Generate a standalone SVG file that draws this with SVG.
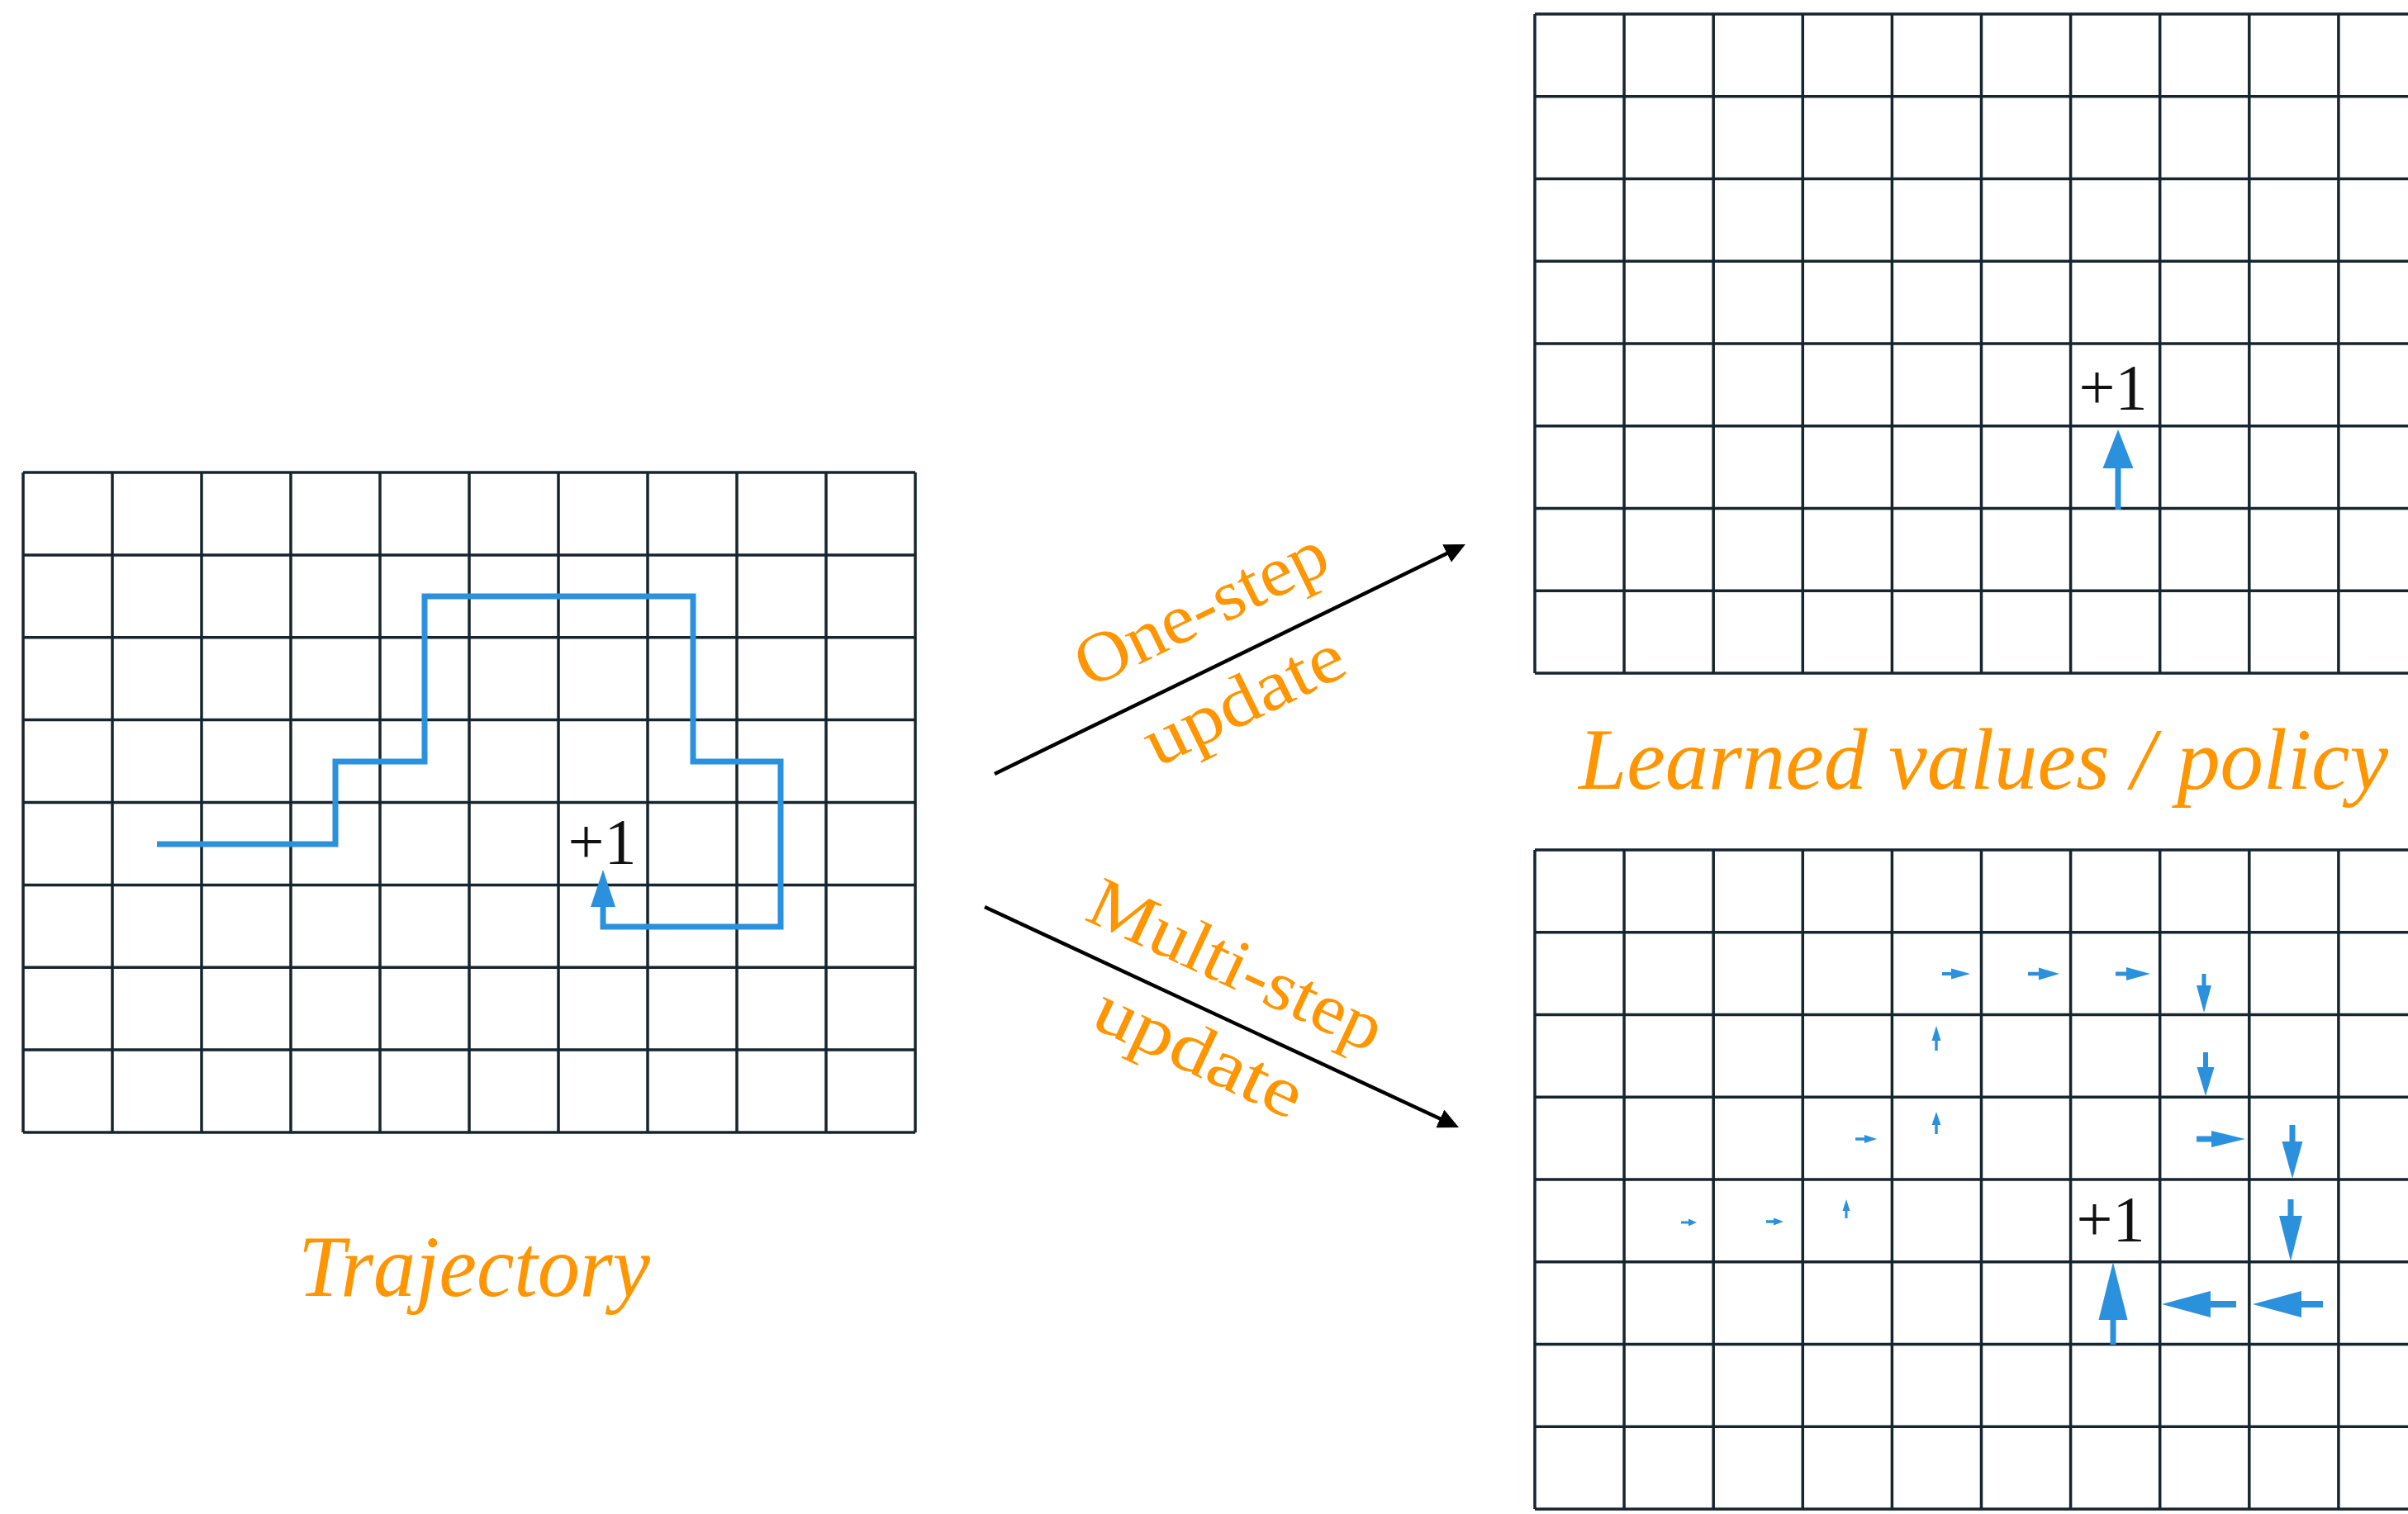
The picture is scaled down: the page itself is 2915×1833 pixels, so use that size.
<svg xmlns="http://www.w3.org/2000/svg" width="2915" height="1833" viewBox="0 0 2915 1833">
<style>
.grid{fill:none;stroke:#17252f;stroke-width:3.5}
.traj{fill:none;stroke:#2b91dc;stroke-width:7;stroke-linejoin:miter}
.ba{fill:#2b91dc}
.lbl{font-family:"Liberation Serif","Times New Roman",serif;font-style:italic;fill:#ff9500}
.rot{font-style:normal;font-size:86px}
.plus{font-family:"Liberation Serif","Times New Roman",serif;font-size:78px;fill:#111}
.conn{stroke:#000;stroke-width:4.5;fill:none}
</style>
<defs>
<marker id="ah" markerUnits="userSpaceOnUse" markerWidth="25" markerHeight="24" viewBox="0 0 25 24" refX="15" refY="12" orient="auto">
<path d="M0,0 L25,12 L0,24 z" fill="#000"/>
</marker>
</defs>
<rect width="2915" height="1833" fill="#fff"/>

<g id="trajectory-grid">
<path class="grid" d="M28,572V1371M136,572V1371M244,572V1371M352,572V1371M460,572V1371M568,572V1371M676,572V1371M784,572V1371M892,572V1371M1000,572V1371M1108,572V1371M28,572H1108M28,671.9H1108M28,771.8H1108M28,871.6H1108M28,971.5H1108M28,1071.4H1108M28,1171.2H1108M28,1271.1H1108M28,1371H1108"/>
<path class="traj" d="M190,1022H406V922H514V722H839V922H945V1122H730V1096"/>
<path class="ba" d="M730,1053L745,1098H715z"/>
<text class="plus" x="729" y="1045" text-anchor="middle">+1</text>
</g>

<g id="one-step-grid">
<path class="grid" d="M1858,17V815M1966.1,17V815M2074.2,17V815M2182.3,17V815M2290.4,17V815M2398.5,17V815M2506.6,17V815M2614.7,17V815M2722.8,17V815M2830.9,17V815M1858,17H2940M1858,116.75H2940M1858,216.5H2940M1858,316.25H2940M1858,416H2940M1858,515.75H2940M1858,615.5H2940M1858,715.25H2940M1858,815H2940"/>
<path class="ba" d="M2560.5,617V567H2545.5L2564,520L2582.5,567H2567.5V617z"/>
<text class="plus" x="2558" y="495" text-anchor="middle">+1</text>
</g>

<g id="multi-step-grid">
<path class="grid" d="M1858,1029V1827M1966.1,1029V1827M2074.2,1029V1827M2182.3,1029V1827M2290.4,1029V1827M2398.5,1029V1827M2506.6,1029V1827M2614.7,1029V1827M2722.8,1029V1827M2830.9,1029V1827M1858,1029H2940M1858,1128.75H2940M1858,1228.5H2940M1858,1328.25H2940M1858,1428H2940M1858,1527.75H2940M1858,1627.5H2940M1858,1727.25H2940M1858,1827H2940"/>
<g id="policy-arrows">
<path class="ba" d="M2351,1177H2362V1172.5L2385,1179L2362,1185.5V1181H2351z"/>
<path class="ba" d="M2455,1176.8H2468V1171.5L2493,1179L2468,1186.5V1181.2H2455z"/>
<path class="ba" d="M2561,1176.5H2574V1171L2603,1179L2574,1187V1181.5H2561z"/>
<path class="ba" d="M2665.5,1179H2670.5V1193H2677L2668,1226L2659,1193H2665.5z"/>
<path class="ba" d="M2342.3,1272V1260H2338.5L2344,1242L2349.5,1260H2345.7V1272z"/>
<path class="ba" d="M2667,1274H2673V1292H2680.5L2670,1327L2659.5,1292H2667z"/>
<path class="ba" d="M2246,1377.3H2257V1374L2272,1379L2257,1384V1380.7H2246z"/>
<path class="ba" d="M2342.3,1373V1362H2338.5L2344,1346L2349.5,1362H2345.7V1373z"/>
<path class="ba" d="M2659,1375.5H2677V1369L2718,1379L2677,1389V1382.5H2659z"/>
<path class="ba" d="M2771.5,1362H2778.5V1382H2787.5L2775,1427L2762.5,1382H2771.5z"/>
<path class="ba" d="M2035,1478.5H2044V1475.5L2054,1480L2044,1484.5V1481.5H2035z"/>
<path class="ba" d="M2138,1477.3H2147V1474.5L2159,1479L2147,1483.5V1480.7H2138z"/>
<path class="ba" d="M2233.5,1475V1466H2230.5L2235,1452L2239.5,1466H2236.5V1475z"/>
<path class="ba" d="M2769.5,1452H2776.5V1472H2787L2773,1527L2759,1472H2769.5z"/>
<path class="ba" d="M2554.5,1628V1598H2540.5L2558,1528L2575.5,1598H2561.5V1628z"/>
<path class="ba" d="M2707,1575H2676V1563L2617,1579L2676,1595V1583H2707z"/>
<path class="ba" d="M2812,1575H2786V1563L2727,1579L2786,1595V1583H2812z"/>
</g>
<text class="plus" x="2555" y="1502" text-anchor="middle">+1</text>
</g>

<g id="connectors">
<line id="one-step-arrow" class="conn" x1="1204" y1="937" x2="1765" y2="663.4" marker-end="url(#ah)"/>
<line id="multi-step-arrow" class="conn" x1="1192" y1="1098" x2="1756.9" y2="1360.8" marker-end="url(#ah)"/>
<text class="lbl rot" text-anchor="middle" textLength="330" lengthAdjust="spacingAndGlyphs" transform="translate(1466,762) rotate(-26)">One-step</text>
<text class="lbl rot" text-anchor="middle" textLength="261" lengthAdjust="spacingAndGlyphs" transform="translate(1518,872) rotate(-26)">update</text>
<text class="lbl rot" text-anchor="middle" textLength="384" lengthAdjust="spacingAndGlyphs" transform="translate(1485,1194) rotate(25)">Multi-step</text>
<text class="lbl rot" text-anchor="middle" textLength="270" lengthAdjust="spacingAndGlyphs" transform="translate(1440,1299) rotate(25)">update</text>
</g>

<g id="captions">
<text class="lbl" font-size="106" x="574" y="1569" text-anchor="middle" textLength="426" lengthAdjust="spacingAndGlyphs">Trajectory</text>
<text class="lbl" font-size="106" x="2401" y="955" text-anchor="middle" textLength="980" lengthAdjust="spacingAndGlyphs">Learned values / policy</text>
</g>
</svg>
